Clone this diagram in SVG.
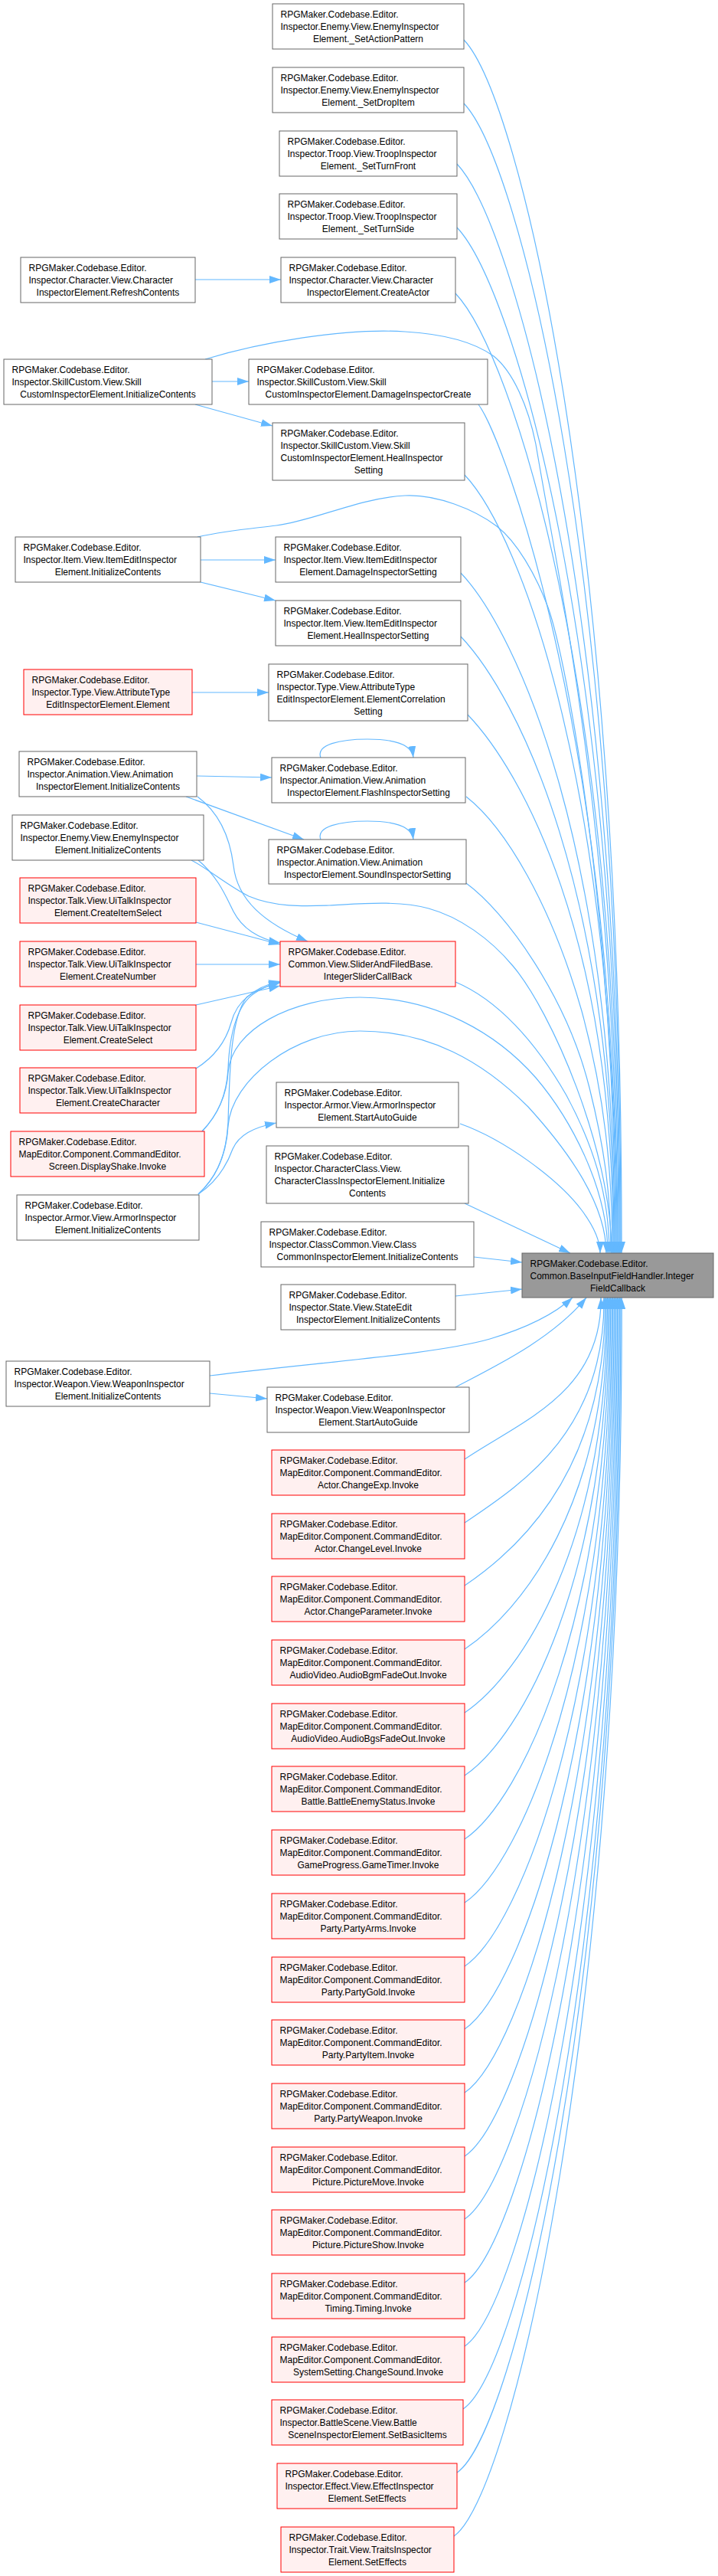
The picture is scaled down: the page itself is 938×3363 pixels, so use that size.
<svg xmlns="http://www.w3.org/2000/svg" width="938" height="3363" viewBox="0 0 938 3363">
<defs>
<marker id="a" markerWidth="15" markerHeight="10" refX="15" refY="5" orient="auto" markerUnits="userSpaceOnUse" viewBox="0 0 15 10"><path d="M0,0 L15,5 L0,10 z" fill="#63b8ff"/></marker>
</defs>
<style>
.n rect{fill:#fff;stroke:#666;stroke-width:1}
.r rect{fill:#fff0f0;stroke:#f00;stroke-width:1}
.t rect{fill:#999;stroke:#666;stroke-width:1}
text{font-family:"Liberation Sans",Arial,sans-serif;font-size:12px;fill:#000}
.c{text-anchor:middle}
#edges path{fill:none;stroke:#63b8ff;stroke-width:1.2;marker-end:url(#a)}
</style>
<rect x="0" y="0" width="938" height="3363" fill="#fff"/>
<g id="edges">
<path d="M606,52 C680,130 814,701 812,1636"/>
<path d="M606,135 C680,213 813,750 811,1636"/>
<path d="M597,214 C671,292 812,797 810,1636"/>
<path d="M597,297 C671,375 811,846 809,1636"/>
<path d="M595,383 C669,461 810,897 808,1636"/>
<path d="M625,528 C660,575 808,982 806,1636"/>
<path d="M607,620 C681,698 807,1037 805,1636"/>
<path d="M602,748 C676,826 805,1112 803,1636"/>
<path d="M602,831 C676,909 804,1161 802,1636"/>
<path d="M611,933 C680,1005 803,1221 801,1636"/>
<path d="M609,1040 C660,1080 720,1180 760,1320 C790,1430 800,1530 800,1636"/>
<path d="M609,1153 C660,1190 740,1300 770,1420 C790,1500 798,1560 798,1636"/>
<path d="M595,1282 C650,1305 700,1360 740,1430 C775,1495 796,1560 796,1636"/>
<path d="M601,1467 C660,1488 730,1540 760,1580 C775,1600 784,1620 784,1636"/>
<path d="M607,1571 L745,1636"/>
<path d="M268,469 C340,447 450,428 529,433 C580,436 620,447 645,465 C670,485 690,530 700,580 C730,760 807,1100 807,1636"/>
<path d="M258,701 C300,692 330,690 361,686 C410,680 470,650 529,647 C570,645 620,665 649,687 C675,707 700,750 716,793 C740,860 804,1200 804,1636"/>
<path d="M250,1123 C270,1133 300,1158 325,1170 C360,1185 400,1183 430,1182 C470,1180 520,1175 560,1186 C600,1197 640,1225 670,1261 C720,1320 799,1500 799,1636"/>
<path d="M264,1477 C285,1455 296,1430 298,1400 C302,1345 380,1302 470,1302 C570,1302 650,1350 700,1407 C745,1460 794,1550 794,1636"/>
<path d="M259,1559 C285,1535 296,1505 298,1470 C302,1410 385,1346 470,1346 C560,1346 630,1385 690,1445 C740,1500 792,1570 792,1636"/>
<path d="M255,365 L367,365"/>
<path d="M277,498 L325,498"/>
<path d="M255,528 L356,556"/>
<path d="M262,731 L360,731"/>
<path d="M262,760 L360,784"/>
<path d="M251,904 L351,904"/>
<path d="M257,1013 L355,1015"/>
<path d="M243,1040 L397,1096"/>
<path d="M258,1040 C285,1060 300,1090 305,1130 C310,1175 345,1205 402,1229"/>
<path d="M259,1123 C285,1145 295,1170 305,1190 C318,1215 340,1226 366,1231"/>
<path d="M256,1204 L366,1233"/>
<path d="M256,1259 L366,1259"/>
<path d="M256,1312 L366,1287"/>
<path d="M256,1395 C280,1380 295,1360 302,1335 C310,1305 330,1292 366,1283"/>
<path d="M264,1477 C285,1455 296,1430 298,1395 C300,1345 312,1310 332,1297 C344,1289 354,1285 366,1282"/>
<path d="M259,1559 C285,1535 296,1505 298,1465 C300,1390 302,1330 322,1302 C336,1290 352,1284 366,1281"/>
<path d="M259,1559 C280,1545 295,1525 304,1500 C312,1482 330,1472 361,1466"/>
<path d="M419,989 C412,972 445,965 480,965 C515,965 538,972 540,989"/>
<path d="M419,1096 C412,1079 445,1072 480,1072 C515,1072 538,1079 540,1096"/>
<path d="M619,1641 L682,1648"/>
<path d="M595,1692 L682,1683"/>
<path d="M274,1819 L349,1826"/>
<path d="M274,1796 C420,1778 570,1768 640,1748 C690,1733 725,1715 748,1694"/>
<path d="M595,1811 C640,1787 720,1750 766,1694"/>
<path d="M607,1905 C681,1855 787,1818 785,1694"/>
<path d="M607,1988 C681,1938 791,1868 789,1694"/>
<path d="M607,2070 C681,2020 792.5,1916 790.5,1694"/>
<path d="M607,2153 C681,2103 794,1965 792,1694"/>
<path d="M607,2236 C681,2186 795.4,2014 793.4,1694"/>
<path d="M607,2318 C681,2268 796.8,2062 794.8,1694"/>
<path d="M607,2401 C681,2351 798.3,2111 796.3,1694"/>
<path d="M607,2484 C681,2434 799.7,2160 797.7,1694"/>
<path d="M607,2567 C681,2517 801.2,2209 799.2,1694"/>
<path d="M607,2649 C681,2599 802.6,2258 800.6,1694"/>
<path d="M607,2732 C681,2682 804.1,2306 802.1,1694"/>
<path d="M607,2815 C681,2765 805.5,2355 803.5,1694"/>
<path d="M607,2897 C681,2847 807,2404 805,1694"/>
<path d="M607,2980 C681,2930 808.4,2453 806.4,1694"/>
<path d="M607,3063 C681,3013 809.9,2502 807.9,1694"/>
<path d="M605,3145 C679,3095 811.3,2550 809.3,1694"/>
<path d="M597,3228 C671,3178 812.8,2599 810.8,1694"/>
<path d="M593,3311 C667,3261 814.2,2648 812.2,1694"/>
</g>
<g id="n1" class="n"><rect x="356" y="5" width="250" height="59"/><text x="366.5" y="23">RPGMaker.Codebase.Editor.</text><text x="366.5" y="39">Inspector.Enemy.View.EnemyInspector</text><text class="c" x="481" y="55">Element._SetActionPattern</text></g>
<g id="n2" class="n"><rect x="356" y="88" width="250" height="59"/><text x="366.5" y="106">RPGMaker.Codebase.Editor.</text><text x="366.5" y="122">Inspector.Enemy.View.EnemyInspector</text><text class="c" x="481" y="138">Element._SetDropItem</text></g>
<g id="n3" class="n"><rect x="365" y="171" width="232" height="59"/><text x="375.5" y="189">RPGMaker.Codebase.Editor.</text><text x="375.5" y="205">Inspector.Troop.View.TroopInspector</text><text class="c" x="481" y="221">Element._SetTurnFront</text></g>
<g id="n4" class="n"><rect x="365" y="253" width="232" height="59"/><text x="375.5" y="271">RPGMaker.Codebase.Editor.</text><text x="375.5" y="287">Inspector.Troop.View.TroopInspector</text><text class="c" x="481" y="303">Element._SetTurnSide</text></g>
<g id="n5" class="n"><rect x="27" y="336" width="228" height="59"/><text x="37.5" y="354">RPGMaker.Codebase.Editor.</text><text x="37.5" y="370">Inspector.Character.View.Character</text><text class="c" x="141" y="386">InspectorElement.RefreshContents</text></g>
<g id="n6" class="n"><rect x="367" y="336" width="228" height="59"/><text x="377.5" y="354">RPGMaker.Codebase.Editor.</text><text x="377.5" y="370">Inspector.Character.View.Character</text><text class="c" x="481" y="386">InspectorElement.CreateActor</text></g>
<g id="n7" class="n"><rect x="5" y="469" width="272" height="59"/><text x="15.5" y="487">RPGMaker.Codebase.Editor.</text><text x="15.5" y="503">Inspector.SkillCustom.View.Skill</text><text class="c" x="141" y="519">CustomInspectorElement.InitializeContents</text></g>
<g id="n8" class="n"><rect x="325" y="469" width="312" height="59"/><text x="335.5" y="487">RPGMaker.Codebase.Editor.</text><text x="335.5" y="503">Inspector.SkillCustom.View.Skill</text><text class="c" x="481" y="519">CustomInspectorElement.DamageInspectorCreate</text></g>
<g id="n9" class="n"><rect x="356" y="552" width="251" height="75"/><text x="366.5" y="570">RPGMaker.Codebase.Editor.</text><text x="366.5" y="586">Inspector.SkillCustom.View.Skill</text><text x="366.5" y="602">CustomInspectorElement.HealInspector</text><text class="c" x="481.5" y="618">Setting</text></g>
<g id="n10" class="n"><rect x="20" y="701" width="242" height="59"/><text x="30.5" y="719">RPGMaker.Codebase.Editor.</text><text x="30.5" y="735">Inspector.Item.View.ItemEditInspector</text><text class="c" x="141" y="751">Element.InitializeContents</text></g>
<g id="n11" class="n"><rect x="360" y="701" width="242" height="59"/><text x="370.5" y="719">RPGMaker.Codebase.Editor.</text><text x="370.5" y="735">Inspector.Item.View.ItemEditInspector</text><text class="c" x="481" y="751">Element.DamageInspectorSetting</text></g>
<g id="n12" class="n"><rect x="360" y="784" width="242" height="59"/><text x="370.5" y="802">RPGMaker.Codebase.Editor.</text><text x="370.5" y="818">Inspector.Item.View.ItemEditInspector</text><text class="c" x="481" y="834">Element.HealInspectorSetting</text></g>
<g id="n13" class="r"><rect x="31" y="874" width="220" height="59"/><text x="41.5" y="892">RPGMaker.Codebase.Editor.</text><text x="41.5" y="908">Inspector.Type.View.AttributeType</text><text class="c" x="141" y="924">EditInspectorElement.Element</text></g>
<g id="n14" class="n"><rect x="351" y="867" width="260" height="74"/><text x="361.5" y="885">RPGMaker.Codebase.Editor.</text><text x="361.5" y="901">Inspector.Type.View.AttributeType</text><text x="361.5" y="917">EditInspectorElement.ElementCorrelation</text><text class="c" x="481" y="933">Setting</text></g>
<g id="n15" class="n"><rect x="25" y="981" width="232" height="59"/><text x="35.5" y="999">RPGMaker.Codebase.Editor.</text><text x="35.5" y="1015">Inspector.Animation.View.Animation</text><text class="c" x="141" y="1031">InspectorElement.InitializeContents</text></g>
<g id="n16" class="n"><rect x="355" y="989" width="253" height="59"/><text x="365.5" y="1007">RPGMaker.Codebase.Editor.</text><text x="365.5" y="1023">Inspector.Animation.View.Animation</text><text class="c" x="481.5" y="1039">InspectorElement.FlashInspectorSetting</text></g>
<g id="n17" class="n"><rect x="16" y="1064" width="250" height="59"/><text x="26.5" y="1082">RPGMaker.Codebase.Editor.</text><text x="26.5" y="1098">Inspector.Enemy.View.EnemyInspector</text><text class="c" x="141" y="1114">Element.InitializeContents</text></g>
<g id="n18" class="n"><rect x="351" y="1096" width="258" height="58"/><text x="361.5" y="1114">RPGMaker.Codebase.Editor.</text><text x="361.5" y="1130">Inspector.Animation.View.Animation</text><text class="c" x="480" y="1146">InspectorElement.SoundInspectorSetting</text></g>
<g id="n19" class="r"><rect x="26" y="1146" width="230" height="59"/><text x="36.5" y="1164">RPGMaker.Codebase.Editor.</text><text x="36.5" y="1180">Inspector.Talk.View.UiTalkInspector</text><text class="c" x="141" y="1196">Element.CreateItemSelect</text></g>
<g id="n20" class="r"><rect x="366" y="1229" width="229" height="59"/><text x="376.5" y="1247">RPGMaker.Codebase.Editor.</text><text x="376.5" y="1263">Common.View.SliderAndFiledBase.</text><text class="c" x="480.5" y="1279">IntegerSliderCallBack</text></g>
<g id="n21" class="r"><rect x="26" y="1229" width="230" height="59"/><text x="36.5" y="1247">RPGMaker.Codebase.Editor.</text><text x="36.5" y="1263">Inspector.Talk.View.UiTalkInspector</text><text class="c" x="141" y="1279">Element.CreateNumber</text></g>
<g id="n22" class="r"><rect x="26" y="1312" width="230" height="59"/><text x="36.5" y="1330">RPGMaker.Codebase.Editor.</text><text x="36.5" y="1346">Inspector.Talk.View.UiTalkInspector</text><text class="c" x="141" y="1362">Element.CreateSelect</text></g>
<g id="n23" class="r"><rect x="26" y="1394" width="230" height="59"/><text x="36.5" y="1412">RPGMaker.Codebase.Editor.</text><text x="36.5" y="1428">Inspector.Talk.View.UiTalkInspector</text><text class="c" x="141" y="1444">Element.CreateCharacter</text></g>
<g id="n24" class="n"><rect x="361" y="1413" width="238" height="59"/><text x="371.5" y="1431">RPGMaker.Codebase.Editor.</text><text x="371.5" y="1447">Inspector.Armor.View.ArmorInspector</text><text class="c" x="480" y="1463">Element.StartAutoGuide</text></g>
<g id="n25" class="r"><rect x="14" y="1477" width="253" height="59"/><text x="24.5" y="1495">RPGMaker.Codebase.Editor.</text><text x="24.5" y="1511">MapEditor.Component.CommandEditor.</text><text class="c" x="140.5" y="1527">Screen.DisplayShake.Invoke</text></g>
<g id="n26" class="n"><rect x="348" y="1496" width="264" height="75"/><text x="358.5" y="1514">RPGMaker.Codebase.Editor.</text><text x="358.5" y="1530">Inspector.CharacterClass.View.</text><text x="358.5" y="1546">CharacterClassInspectorElement.Initialize</text><text class="c" x="480" y="1562">Contents</text></g>
<g id="n27" class="n"><rect x="22" y="1560" width="238" height="59"/><text x="32.5" y="1578">RPGMaker.Codebase.Editor.</text><text x="32.5" y="1594">Inspector.Armor.View.ArmorInspector</text><text class="c" x="141" y="1610">Element.InitializeContents</text></g>
<g id="n28" class="n"><rect x="341" y="1595" width="278" height="59"/><text x="351.5" y="1613">RPGMaker.Codebase.Editor.</text><text x="351.5" y="1629">Inspector.ClassCommon.View.Class</text><text class="c" x="480" y="1645">CommonInspectorElement.InitializeContents</text></g>
<g id="target" class="t"><rect x="682" y="1636" width="250" height="58"/><text x="692.5" y="1654">RPGMaker.Codebase.Editor.</text><text x="692.5" y="1670">Common.BaseInputFieldHandler.Integer</text><text class="c" x="807" y="1686">FieldCallback</text></g>
<g id="n29" class="n"><rect x="367" y="1677" width="228" height="59"/><text x="377.5" y="1695">RPGMaker.Codebase.Editor.</text><text x="377.5" y="1711">Inspector.State.View.StateEdit</text><text class="c" x="481" y="1727">InspectorElement.InitializeContents</text></g>
<g id="n30" class="n"><rect x="8" y="1777" width="266" height="59"/><text x="18.5" y="1795">RPGMaker.Codebase.Editor.</text><text x="18.5" y="1811">Inspector.Weapon.View.WeaponInspector</text><text class="c" x="141" y="1827">Element.InitializeContents</text></g>
<g id="n31" class="n"><rect x="349" y="1811" width="264" height="59"/><text x="359.5" y="1829">RPGMaker.Codebase.Editor.</text><text x="359.5" y="1845">Inspector.Weapon.View.WeaponInspector</text><text class="c" x="481" y="1861">Element.StartAutoGuide</text></g>
<g id="n32" class="r"><rect x="355" y="1893" width="252" height="59"/><text x="365.5" y="1911">RPGMaker.Codebase.Editor.</text><text x="365.5" y="1927">MapEditor.Component.CommandEditor.</text><text class="c" x="481" y="1943">Actor.ChangeExp.Invoke</text></g>
<g id="n33" class="r"><rect x="355" y="1976" width="252" height="59"/><text x="365.5" y="1994">RPGMaker.Codebase.Editor.</text><text x="365.5" y="2010">MapEditor.Component.CommandEditor.</text><text class="c" x="481" y="2026">Actor.ChangeLevel.Invoke</text></g>
<g id="n34" class="r"><rect x="355" y="2058" width="252" height="59"/><text x="365.5" y="2076">RPGMaker.Codebase.Editor.</text><text x="365.5" y="2092">MapEditor.Component.CommandEditor.</text><text class="c" x="481" y="2108">Actor.ChangeParameter.Invoke</text></g>
<g id="n35" class="r"><rect x="355" y="2141" width="252" height="59"/><text x="365.5" y="2159">RPGMaker.Codebase.Editor.</text><text x="365.5" y="2175">MapEditor.Component.CommandEditor.</text><text class="c" x="481" y="2191">AudioVideo.AudioBgmFadeOut.Invoke</text></g>
<g id="n36" class="r"><rect x="355" y="2224" width="252" height="59"/><text x="365.5" y="2242">RPGMaker.Codebase.Editor.</text><text x="365.5" y="2258">MapEditor.Component.CommandEditor.</text><text class="c" x="481" y="2274">AudioVideo.AudioBgsFadeOut.Invoke</text></g>
<g id="n37" class="r"><rect x="355" y="2306" width="252" height="59"/><text x="365.5" y="2324">RPGMaker.Codebase.Editor.</text><text x="365.5" y="2340">MapEditor.Component.CommandEditor.</text><text class="c" x="481" y="2356">Battle.BattleEnemyStatus.Invoke</text></g>
<g id="n38" class="r"><rect x="355" y="2389" width="252" height="59"/><text x="365.5" y="2407">RPGMaker.Codebase.Editor.</text><text x="365.5" y="2423">MapEditor.Component.CommandEditor.</text><text class="c" x="481" y="2439">GameProgress.GameTimer.Invoke</text></g>
<g id="n39" class="r"><rect x="355" y="2472" width="252" height="59"/><text x="365.5" y="2490">RPGMaker.Codebase.Editor.</text><text x="365.5" y="2506">MapEditor.Component.CommandEditor.</text><text class="c" x="481" y="2522">Party.PartyArms.Invoke</text></g>
<g id="n40" class="r"><rect x="355" y="2555" width="252" height="59"/><text x="365.5" y="2573">RPGMaker.Codebase.Editor.</text><text x="365.5" y="2589">MapEditor.Component.CommandEditor.</text><text class="c" x="481" y="2605">Party.PartyGold.Invoke</text></g>
<g id="n41" class="r"><rect x="355" y="2637" width="252" height="59"/><text x="365.5" y="2655">RPGMaker.Codebase.Editor.</text><text x="365.5" y="2671">MapEditor.Component.CommandEditor.</text><text class="c" x="481" y="2687">Party.PartyItem.Invoke</text></g>
<g id="n42" class="r"><rect x="355" y="2720" width="252" height="59"/><text x="365.5" y="2738">RPGMaker.Codebase.Editor.</text><text x="365.5" y="2754">MapEditor.Component.CommandEditor.</text><text class="c" x="481" y="2770">Party.PartyWeapon.Invoke</text></g>
<g id="n43" class="r"><rect x="355" y="2803" width="252" height="59"/><text x="365.5" y="2821">RPGMaker.Codebase.Editor.</text><text x="365.5" y="2837">MapEditor.Component.CommandEditor.</text><text class="c" x="481" y="2853">Picture.PictureMove.Invoke</text></g>
<g id="n44" class="r"><rect x="355" y="2885" width="252" height="59"/><text x="365.5" y="2903">RPGMaker.Codebase.Editor.</text><text x="365.5" y="2919">MapEditor.Component.CommandEditor.</text><text class="c" x="481" y="2935">Picture.PictureShow.Invoke</text></g>
<g id="n45" class="r"><rect x="355" y="2968" width="252" height="59"/><text x="365.5" y="2986">RPGMaker.Codebase.Editor.</text><text x="365.5" y="3002">MapEditor.Component.CommandEditor.</text><text class="c" x="481" y="3018">Timing.Timing.Invoke</text></g>
<g id="n46" class="r"><rect x="355" y="3051" width="252" height="59"/><text x="365.5" y="3069">RPGMaker.Codebase.Editor.</text><text x="365.5" y="3085">MapEditor.Component.CommandEditor.</text><text class="c" x="481" y="3101">SystemSetting.ChangeSound.Invoke</text></g>
<g id="n47" class="r"><rect x="355" y="3133" width="250" height="59"/><text x="365.5" y="3151">RPGMaker.Codebase.Editor.</text><text x="365.5" y="3167">Inspector.BattleScene.View.Battle</text><text class="c" x="480" y="3183">SceneInspectorElement.SetBasicItems</text></g>
<g id="n48" class="r"><rect x="362" y="3216" width="235" height="59"/><text x="372.5" y="3234">RPGMaker.Codebase.Editor.</text><text x="372.5" y="3250">Inspector.Effect.View.EffectInspector</text><text class="c" x="479.5" y="3266">Element.SetEffects</text></g>
<g id="n49" class="r"><rect x="367" y="3299" width="226" height="59"/><text x="377.5" y="3317">RPGMaker.Codebase.Editor.</text><text x="377.5" y="3333">Inspector.Trait.View.TraitsInspector</text><text class="c" x="480" y="3349">Element.SetEffects</text></g>
</svg>
